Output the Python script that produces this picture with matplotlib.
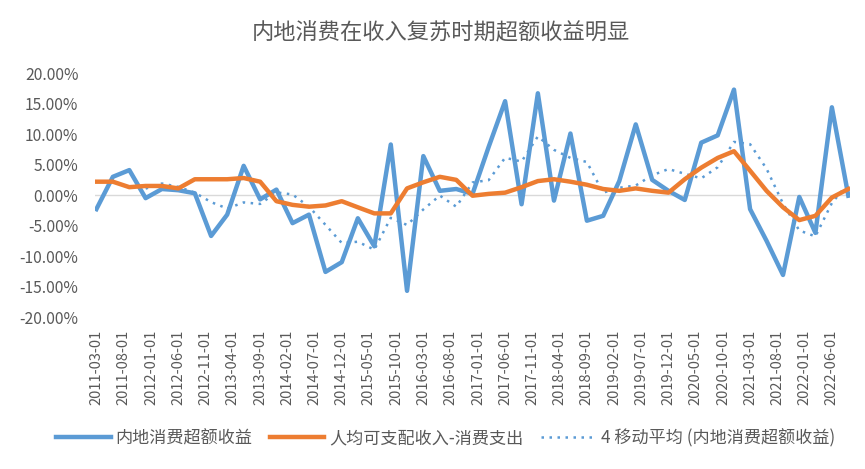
import numpy as np
import pandas as pd
import matplotlib
matplotlib.use("Agg")
import matplotlib.pyplot as plt
import matplotlib.dates as mdates
from matplotlib.ticker import FuncFormatter

plt.rcParams['font.family'] = ['Noto Sans CJK SC', 'DejaVu Sans']

# 季度数据 2011-03 ~ 2022-09 (单位: %)
dates = pd.date_range('2011-03-01', periods=47, freq='3MS')

excess = [-2.3, 3.0, 4.1, -0.5, 1.0, 0.8, 0.3, -6.7, -3.2, 4.8,
          -0.7, 0.9, -4.6, -3.2, -12.6, -11.0, -3.8, -8.4, 8.3, -15.7,
          6.4, 0.7, 1.0, 0.2, 7.9, 15.4, -1.5, 16.7, -0.9, 10.1,
          -4.2, -3.4, 2.3, 11.6, 2.5, 0.7, -0.8, 8.6, 9.8, 17.3,
          -2.3, -7.5, -13.1, -0.3, -6.2, 14.4, -0.1]

income_gap = [2.2, 2.2, 1.3, 1.5, 1.5, 1.1, 2.6, 2.6, 2.6, 2.8,
              2.2, -1.0, -1.6, -1.9, -1.7, -1.0, -2.0, -3.0, -3.0, 1.1,
              2.1, 3.0, 2.5, -0.1, 0.2, 0.4, 1.3, 2.3, 2.6, 2.2,
              1.7, 1.0, 0.7, 1.1, 0.7, 0.4, 2.6, 4.5, 6.1, 7.2,
              4.0, 0.7, -2.0, -4.1, -3.4, -0.4, 1.0]

tick_dates = pd.date_range('2011-03-01', '2022-06-01', freq='5MS')
y_ticks = [-20, -15, -10, -5, 0, 5, 10, 15, 20]

labels = ['内地消费超额收益', '人均可支配收入-消费支出', '4 移动平均 (内地消费超额收益)']

# Excel 趋势线: 4 期移动平均
ma4 = pd.Series(excess).rolling(4).mean()

blue = '#5B9BD5'
orange = '#ED7D31'
grey = '#595959'

fig = plt.figure(figsize=(8.65, 4.69), dpi=100)
ax = fig.add_axes([0.110, 0.324, 0.873, 0.520])

ax.axhline(0, color='#D9D9D9', lw=1, zorder=1)
ax.plot(dates, excess, color=blue, lw=3.2, label=labels[0], zorder=3)
ax.plot(dates, income_gap, color=orange, lw=3.2, label=labels[1], zorder=4)
ax.plot(dates, ma4, color=blue, lw=1.8, ls=(0, (1, 2.2)), label=labels[2], zorder=2)

ax.set_ylim(-20, 20)
ax.set_yticks(y_ticks)
ax.yaxis.set_major_formatter(FuncFormatter(lambda v, p: '%.2f%%' % v))
ax.set_xlim(pd.Timestamp('2011-02-22'), pd.Timestamp('2022-09-12'))
ax.set_xticks(tick_dates)
ax.xaxis.set_major_formatter(mdates.DateFormatter('%Y-%m-%d'))

for s in ax.spines.values():
    s.set_visible(False)
ax.tick_params(axis='both', length=0, colors=grey)
ax.tick_params(axis='x', rotation=90, pad=9, labelsize=10.5)
ax.tick_params(axis='y', pad=12, labelsize=11.3)

fig.suptitle('内地消费在收入复苏时期超额收益明显', x=0.51, y=0.955,
             fontsize=16, color=grey)

fig.legend(loc='center', bbox_to_anchor=(0.515, 0.066), ncol=3, frameon=False,
           fontsize=12.3, labelcolor=grey, handlelength=3.2, handletextpad=0.3,
           columnspacing=1.0)

fig.savefig('out.png', dpi=100)
